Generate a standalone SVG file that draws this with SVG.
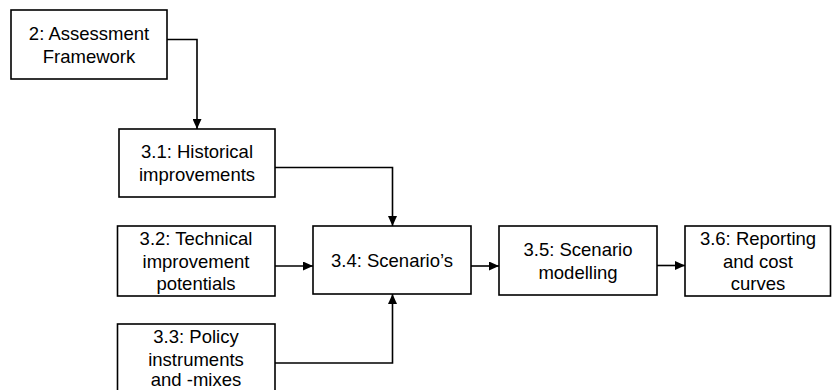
<svg xmlns="http://www.w3.org/2000/svg" width="832" height="390" viewBox="0 0 832 390">
<style>
.box{fill:#fff;stroke:#000;stroke-width:1.6}
.t{font-family:"Liberation Sans",Arial,sans-serif;font-size:18.5px;fill:#000;text-anchor:middle}
.c{fill:none;stroke:#000;stroke-width:1.6}
</style>
<defs>
<marker id="ah" markerWidth="10" markerHeight="9" refX="10" refY="4.5" orient="auto" markerUnits="userSpaceOnUse">
<path d="M0,0 L10,4.5 L0,9 Z" fill="#000"/>
</marker>
</defs>
<rect width="832" height="390" fill="#fff"/>
<g id="connectors">
<path class="c" d="M167,39.5 H197 V129" marker-end="url(#ah)"/>
<path class="c" d="M275,167.5 H392.5 V226" marker-end="url(#ah)"/>
<path class="c" d="M275,266 H313" marker-end="url(#ah)"/>
<path class="c" d="M275,363 H392.5 V294" marker-end="url(#ah)"/>
<path class="c" d="M471,266 H499" marker-end="url(#ah)"/>
<path class="c" d="M657,265.5 H685" marker-end="url(#ah)"/>
</g>
<g id="n2">
<rect class="box" x="11" y="10" width="156" height="69"/>
<text class="t" x="89" y="40">2: Assessment</text>
<text class="t" x="89" y="63">Framework</text>
</g>
<g id="n31">
<rect class="box" x="119" y="129" width="156" height="68"/>
<text class="t" x="197" y="158">3.1: Historical</text>
<text class="t" x="197" y="181">improvements</text>
</g>
<g id="n32">
<rect class="box" x="117.5" y="226" width="157.5" height="70"/>
<text class="t" x="196" y="245">3.2: Technical</text>
<text class="t" x="196" y="268">improvement</text>
<text class="t" x="196" y="290">potentials</text>
</g>
<g id="n33">
<rect class="box" x="117.5" y="324" width="157.5" height="72"/>
<text class="t" x="196" y="343">3.3: Policy</text>
<text class="t" x="196" y="365.5">instruments</text>
<text class="t" x="196" y="386">and -mixes</text>
</g>
<g id="n34">
<rect class="box" x="313" y="226" width="158" height="68"/>
<text class="t" x="392" y="267">3.4: Scenario’s</text>
</g>
<g id="n35">
<rect class="box" x="499" y="226" width="158" height="69"/>
<text class="t" x="578" y="256">3.5: Scenario</text>
<text class="t" x="578" y="279">modelling</text>
</g>
<g id="n36">
<rect class="box" x="685" y="226" width="145.5" height="70"/>
<text class="t" x="758" y="245">3.6: Reporting</text>
<text class="t" x="758" y="268">and cost</text>
<text class="t" x="758" y="290">curves</text>
</g>
</svg>
